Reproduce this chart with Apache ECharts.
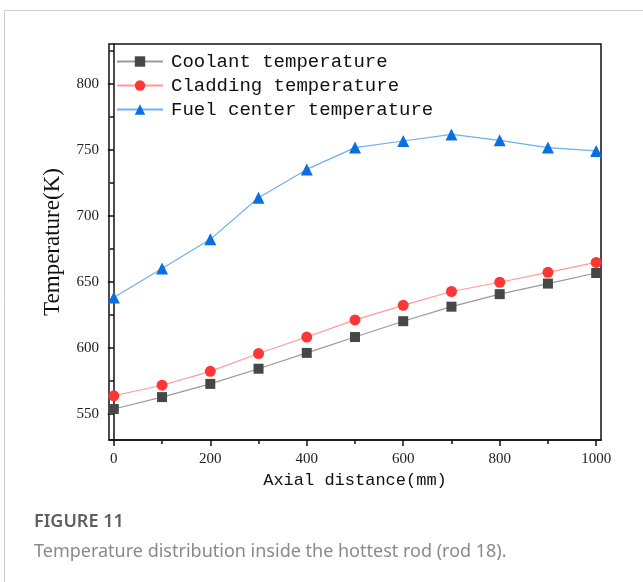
<!DOCTYPE html>
<html>
<head>
<meta charset="utf-8">
<script src="https://cdn.jsdelivr.net/npm/echarts@6/dist/echarts.min.js"></script>
<style>
html,body{margin:0;padding:0;background:#fff;}
#chart{width:643px;height:582px;}
</style>
</head>
<body>
<div id="chart"></div>
<script>
var distances = [0, 100, 200, 300, 400, 500, 600, 700, 800, 900, 1000];
var coolant = [553.5, 562.5, 572.5, 584, 596, 608, 620, 631, 640.5, 648.5, 656.5];
var cladding = [563.5, 571.5, 582, 595.5, 608, 621, 632, 642.5, 649.5, 657, 664.5];
var fuelCenter = [638, 660, 682, 713.5, 735, 751.5, 756.5, 761.5, 757, 751.5, 749];
var seriesNames = ['Coolant temperature', 'Cladding temperature', 'Fuel center temperature'];
var xTicks = [0, 200, 400, 600, 800, 1000];
var xMinorTicks = [100, 300, 500, 700, 900];
var yTicks = [550, 600, 650, 700, 750, 800];
var yMinorTicks = [575, 625, 675, 725, 775, 825];
var xTitle = 'Axial distance(mm)';
var yTitle = 'Temperature(K)';
var captionTitle = 'FIGURE 11';
var captionText = 'Temperature distribution inside the hottest rod (rod 18).';

function pairs(vals) { return distances.map(function (d, i) { return [d, vals[i]]; }); }
function plain(v) { return String(v); }

var chart = echarts.init(document.getElementById('chart'), null, {renderer: 'canvas'});
var axisLineStyle = {color: '#111', width: 1.5};
var option = {
  animation: false,
  backgroundColor: '#fff',
  graphic: [
    {type: 'rect', shape: {x: 4.5, y: 10.5, width: 800, height: 800}, style: {fill: 'none', stroke: '#cfcfcf', lineWidth: 1}, silent: true, z: -10},
    {type: 'text', left: 34, top: 513, style: {text: captionTitle, font: '600 18px "Noto Sans"', fill: '#5f5f5f'}},
    {type: 'text', left: 34, top: 543, style: {text: captionText, font: '18px "Noto Sans"', fill: '#8a8a8a'}}
  ],
  grid: {left: 109, right: 42, top: 44, bottom: 142, show: true, borderColor: '#111', borderWidth: 1.5, backgroundColor: 'transparent'},
  legend: {
    orient: 'vertical', left: 111, top: 47, itemGap: 5, itemWidth: 46, itemHeight: 13,
    textStyle: {fontFamily: 'Liberation Mono', fontSize: 19, color: '#111', padding: [0, 0, 0, 3]},
    data: seriesNames
  },
  xAxis: [{
    type: 'value', min: -10, max: 1010,
    axisLine: {lineStyle: axisLineStyle},
    axisTick: {customValues: xTicks, length: 6, lineStyle: {color: '#111', width: 1.5}},
    axisLabel: {customValues: xTicks, formatter: plain, margin: 12, fontFamily: 'Liberation Serif', fontSize: 15, color: '#222'},
    splitLine: {show: false},
    name: xTitle, nameLocation: 'middle', nameGap: 30,
    nameTextStyle: {fontFamily: 'Liberation Mono', fontSize: 17, color: '#111'}
  }, {
    type: 'value', min: -10, max: 1010, position: 'bottom',
    axisLine: {show: false},
    axisTick: {customValues: xMinorTicks, length: 4, lineStyle: {color: '#111', width: 1.5}},
    axisLabel: {show: false}, splitLine: {show: false}
  }],
  yAxis: [{
    type: 'value', min: 530, max: 830,
    axisLine: {show: true, lineStyle: axisLineStyle},
    axisTick: {show: true, customValues: yTicks, length: 6, lineStyle: {color: '#111', width: 1.5}},
    axisLabel: {customValues: yTicks, formatter: plain, margin: 10, fontFamily: 'Liberation Serif', fontSize: 15, color: '#222'},
    splitLine: {show: false},
    name: yTitle, nameLocation: 'middle', nameGap: 45, nameRotate: 90,
    nameTextStyle: {fontFamily: 'Liberation Serif', fontSize: 23, color: '#111'}
  }, {
    type: 'value', min: 530, max: 830, position: 'left',
    axisLine: {show: false},
    axisTick: {show: true, customValues: yMinorTicks, length: 4, lineStyle: {color: '#111', width: 1.5}},
    axisLabel: {show: false}, splitLine: {show: false}
  }],
  series: [{
    name: seriesNames[0], type: 'line', data: pairs(coolant),
    symbol: 'rect', symbolSize: 10,
    lineStyle: {color: '#9a9a9a', width: 1.2},
    itemStyle: {color: '#474747'}
  }, {
    name: seriesNames[1], type: 'line', data: pairs(cladding),
    symbol: 'circle', symbolSize: 11,
    lineStyle: {color: '#ff9a9a', width: 1.2},
    itemStyle: {color: '#ff3636'}
  }, {
    name: seriesNames[2], type: 'line', data: pairs(fuelCenter),
    symbol: 'triangle', symbolSize: 12,
    lineStyle: {color: '#6fb0ee', width: 1.2},
    itemStyle: {color: '#0a6fe0'}
  }]
};
chart.setOption(option);
</script>
</body>
</html>
